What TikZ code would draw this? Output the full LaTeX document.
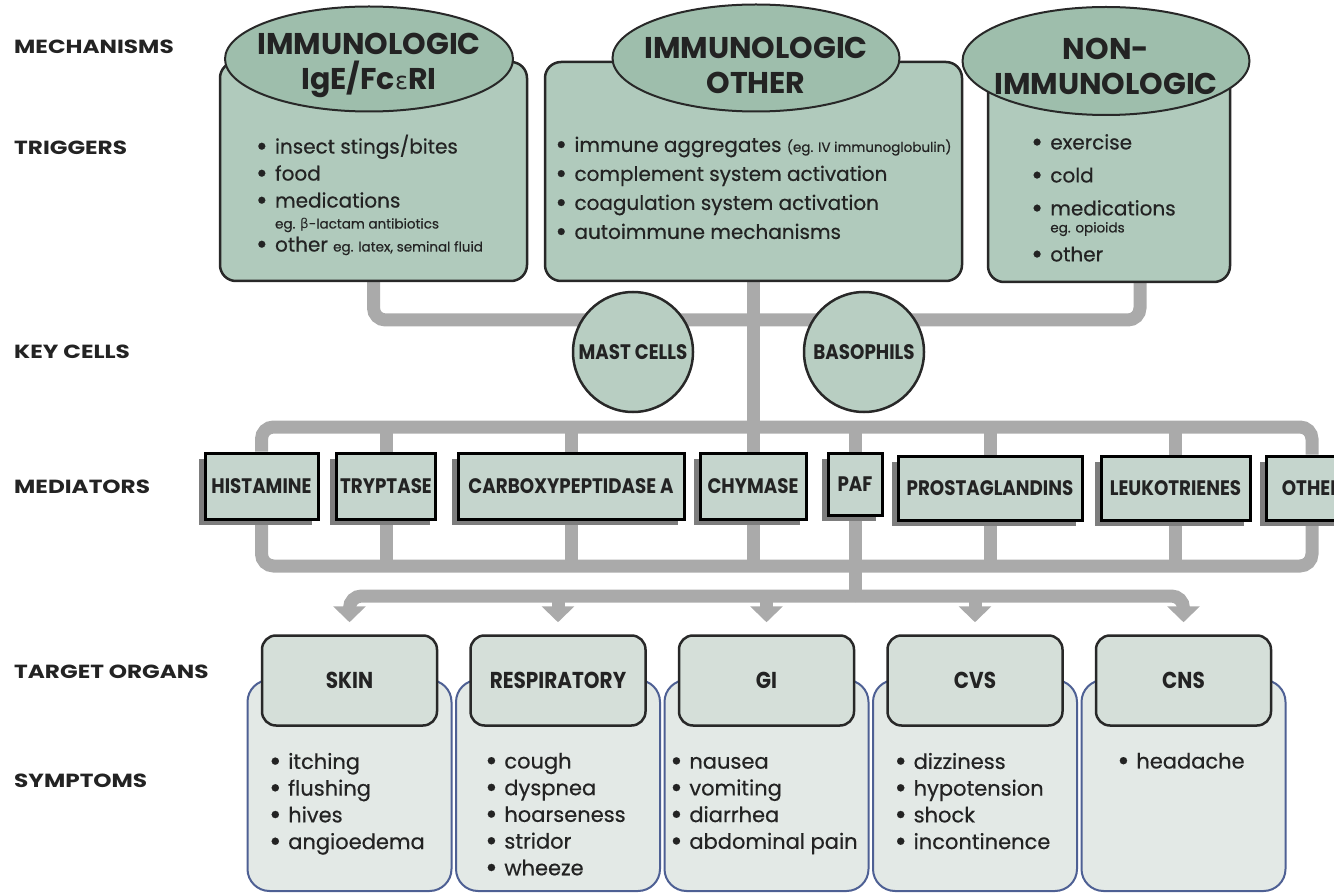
\documentclass[tikz,border=0pt]{standalone}
\usepackage{fontspec}
\setmainfont{Poppins}
\newfontfamily\greekfont{DejaVu Sans}
\newfontfamily\bodyfont[FakeBold=0.5]{Poppins}
\newfontfamily\condfont[FakeStretch=0.87]{Poppins}
\newfontfamily\widefont[FakeStretch=1.22]{Poppins}
\usetikzlibrary{positioning,shapes.geometric,shadows,backgrounds,arrows.meta}

\definecolor{inkgray}{RGB}{35,35,35}
\definecolor{edgegray}{RGB}{40,40,40}
\definecolor{trunkgray}{RGB}{170,170,170}
\definecolor{trigfill}{RGB}{176,202,188}
\definecolor{mechfill}{RGB}{158,190,172}
\definecolor{cellfill}{RGB}{184,206,194}
\definecolor{medfill}{RGB}{197,213,205}
\definecolor{shadowgray}{RGB}{125,125,125}
\definecolor{organfill}{RGB}{213,223,217}
\definecolor{symfill}{RGB}{227,233,230}
\definecolor{symedge}{RGB}{78,96,148}

\newcommand{\mechfont}{\fontsize{30}{35}\selectfont\bfseries}
\newcommand{\trigtextfont}{\bodyfont\fontsize{20}{27}\selectfont}
\newcommand{\medfont}{\condfont\fontsize{21}{24}\selectfont\bfseries}
\newcommand{\organfont}{\condfont\fontsize{23}{26}\selectfont\bfseries}
\newcommand{\symptfont}{\bodyfont\fontsize{21}{26.7}\selectfont}
\newcommand{\sidefont}{\widefont\fontsize{19}{22}\selectfont\bfseries}
\newcommand{\egfont}{\fontsize{13.5}{15}\selectfont}
\newcommand{\bul}{\makebox[14pt][l]{\hspace*{-5pt}\raisebox{-2pt}{\scalebox{1.4}{•}}}}

\begin{document}
\begin{tikzpicture}[x=1pt, y=-1pt, every node/.style={text=inkgray},
  side/.style={anchor=west, inner sep=0pt, font=\sidefont},
  trigbox/.style={draw=edgegray, line width=2.5pt, fill=trigfill, rounded corners=16pt, inner sep=0pt},
  mech/.style={ellipse, draw=edgegray, line width=2pt, fill=mechfill, inner sep=0pt},
  mechtext/.style={inner sep=0pt, align=center, font=\mechfont},
  trigtext/.style={inner sep=0pt, align=left, font=\trigtextfont},
  cell/.style={circle, draw=edgegray, line width=2.5pt, fill=cellfill, minimum size=120pt, inner sep=0pt, font=\medfont},
  med/.style={draw=black, line width=3pt, fill=medfill, minimum height=66pt, inner xsep=4pt, font=\medfont,
    drop shadow={shadow xshift=-6pt, shadow yshift=-6pt, fill=shadowgray, opacity=1}},
  organ/.style={draw=edgegray, line width=2.5pt, fill=organfill, rounded corners=14pt, minimum width=175pt, minimum height=90pt, font=\organfont},
  symbox/.style={draw=symedge, line width=2pt, fill=symfill, rounded corners=22pt, minimum width=204pt, minimum height=211pt},
  symtext/.style={inner sep=0pt, align=left, font=\symptfont},
  trunk/.style={draw=trunkgray, line width=13pt, rounded corners=12pt},
  tip/.style={-{Triangle[width=32pt, length=16pt]}, shorten >=12pt}]
\useasboundingbox (0,0) rectangle (1334,893);

% row labels
\foreach \t/\y [count=\i] in {MECHANISMS/47, TRIGGERS/148, KEY CELLS/352, MEDIATORS/487, TARGET ORGANS/672, SYMPTOMS/781}
  \node[side] (side\i) at (14,\y) {\t};

% mechanisms and triggers
\node[trigbox, minimum width=307pt, minimum height=219pt] (trig1) at (373.5,171.5) {};
\node[trigbox, minimum width=417pt, minimum height=219pt] (trig2) at (753.5,171.5) {};
\node[trigbox, minimum width=242pt, minimum height=212pt] (trig3) at (1109,176) {};
\node[mech, minimum width=288pt, minimum height=105pt] (mech1) at (369,59) {};
\node[mech, minimum width=287pt, minimum height=107pt] (mech2) at (756,58) {};
\node[mech, minimum width=287pt, minimum height=108pt] (mech3) at (1106,61) {};
\node[mechtext] (mech1txt) at ([yshift=-6pt]mech1.center) {IMMUNOLOGIC\\IgE/Fc{\greekfont\mdseries\fontsize{24}{35}\selectfont ε}RI};
\node[mechtext] (mech2txt) at ([yshift=-7pt]mech2.center) {IMMUNOLOGIC\\OTHER};
\node[mechtext] (mech3txt) at ([yshift=-5pt]mech3.center) {NON-\\IMMUNOLOGIC};

\node[trigtext, below=22pt of mech1, xshift=3pt] (list1) {\bul insect stings/bites\\ \bul food\\ \bul medications\\[-6pt]
  \hspace*{14pt}{\egfont eg. {\greekfont β}-lactam antibiotics}\\[-4pt] \bul other {\egfont eg. latex, seminal fluid}};
\node[trigtext, below=24pt of mech2] (list2) {\bul immune aggregates {\egfont (eg. IV immunoglobulin)}\\[2pt]
  \bul complement system activation\\[2pt] \bul coagulation system activation\\[2pt] \bul autoimmune mechanisms};
\node[trigtext, below=18pt of mech3] (list3) {\bul exercise\\[6pt] \bul cold\\[6pt] \bul medications\\[-10pt]
  \hspace*{14pt}{\egfont eg. opioids}\\[2pt] \bul other};

% key cells
\node[cell] (mast) at (633,352) {MAST CELLS};
\node[cell] (baso) at (864,352) {BASOPHILS};

% mediators
\node[med, minimum width=113pt] (hist) at (261.5,486) {HISTAMINE};
\node[med, minimum width=98pt] (tryp) at (386,486) {TRYPTASE};
\node[med, minimum width=226pt] (carb) at (571,486) {CARBOXYPEPTIDASE A};
\node[med, minimum width=106pt] (chym) at (753,486) {CHYMASE};
\node[med, minimum width=54pt, minimum height=62pt] (paf) at (855,484) {PAF};
\node[med, minimum width=184pt, minimum height=64pt] (prost) at (990,488) {PROSTAGLANDINS};
\node[med, minimum width=149pt, minimum height=64pt] (leuk) at (1175.5,488) {LEUKOTRIENES};
\node[med, minimum width=92pt, minimum height=64pt] (other) at (1312,488) {OTHER};

% target organs and symptoms
\foreach \n/\t [count=\i from 0] in {skin/SKIN, resp/RESPIRATORY, gi/GI, cvs/CVS, cns/CNS} {
  \node[symbox] (\n box) at (349.5+208.5*\i,785.5) {};
  \node[organ] (\n) at (349.5+208.5*\i,680.5) {\t};
}
\node[symtext, below=26pt of skin] (skinlist) {\bul itching\\ \bul flushing\\ \bul hives\\ \bul angioedema};
\node[symtext, below=26pt of resp] (resplist) {\bul cough\\ \bul dyspnea\\ \bul hoarseness\\ \bul stridor\\ \bul wheeze};
\node[symtext, below=30pt of gi] (gilist) {\bul nausea\\ \bul vomiting\\ \bul diarrhea\\ \bul abdominal pain};
\node[symtext, below=26pt of cvs] (cvslist) {\bul dizziness\\ \bul hypotension\\ \bul shock\\ \bul incontinence};
\node[symtext, below=26pt of cns] (cnslist) {\bul headache};

% connectors
\coordinate (cellbus) at (753,320);
\coordinate (upbus) at (753,427);
\coordinate (lowbus) at (753,566);
\coordinate (orgbus) at (855,596);
\begin{scope}[on background layer]
  \draw[trunk] (trig1.south) |- (cellbus) -| ([xshift=31pt]trig3.south);
  \draw[trunk] (trig2.south) -- (trig2.south |- chym.north);
  \draw[trunk] (hist) |- (upbus) -| (other);
  \draw[trunk] (hist) |- (lowbus) -| (other);
  \foreach \m in {tryp, carb, paf, prost, leuk}
    \draw[trunk] (\m) -- (\m |- upbus);
  \foreach \m in {tryp, carb, chym, prost, leuk}
    \draw[trunk] (\m) -- (\m |- lowbus);
  \draw[trunk] (paf) -- (orgbus);
  \draw[trunk, tip] (orgbus) -| (skin.north);
  \draw[trunk, tip] (orgbus) -| (cns.north);
  \foreach \n in {resp, gi, cvs}
    \draw[trunk, tip] (\n.north |- orgbus) -- (\n.north);
\end{scope}
\end{tikzpicture}
\end{document}
